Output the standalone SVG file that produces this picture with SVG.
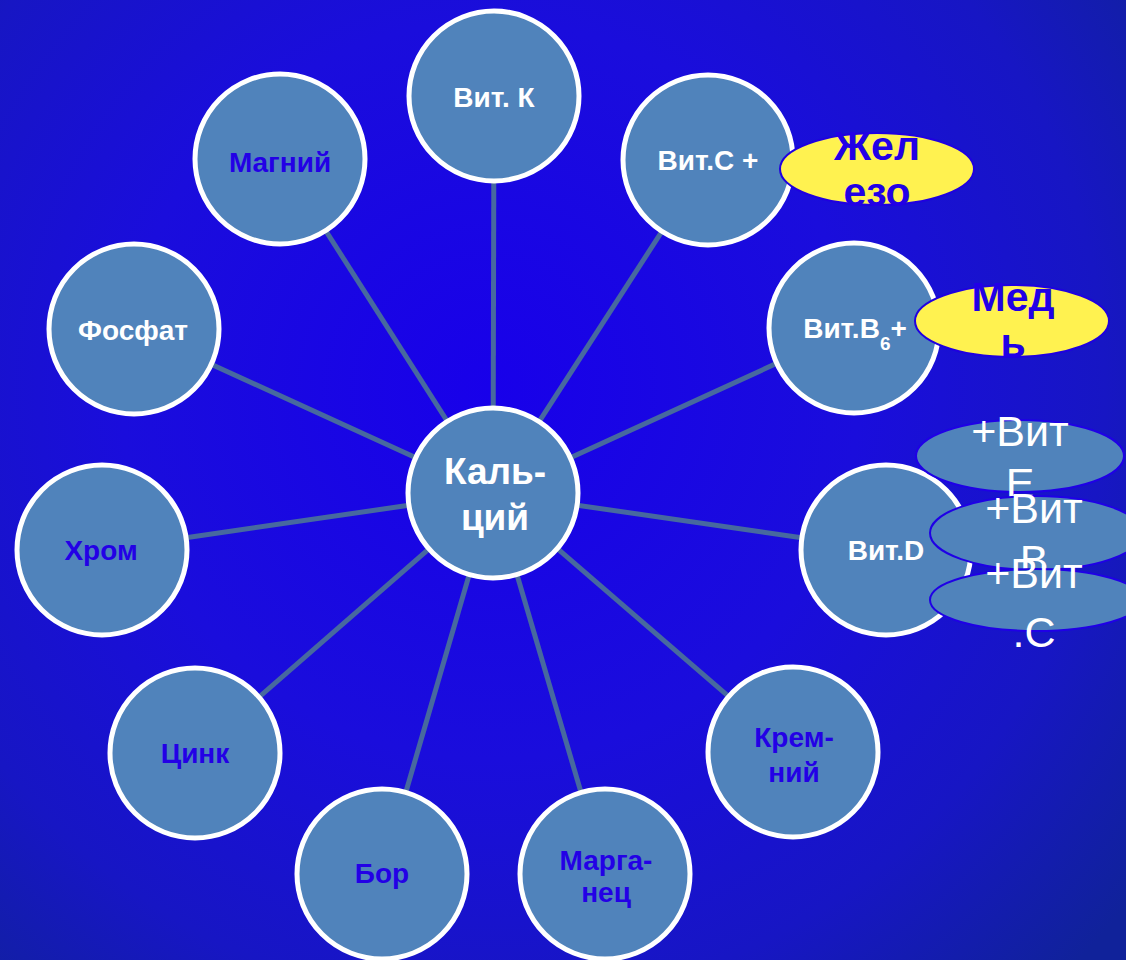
<svg xmlns="http://www.w3.org/2000/svg" width="1126" height="960" viewBox="0 0 1126 960">
<defs>
<radialGradient id="bg" gradientUnits="userSpaceOnUse" cx="490" cy="390" r="820">
<stop offset="0" stop-color="#1800ea"/>
<stop offset="0.45" stop-color="#1a0ddc"/>
<stop offset="0.75" stop-color="#1716c4"/>
<stop offset="1" stop-color="#10229a"/>
</radialGradient>
<clipPath id="c1"><rect x="770" y="120" width="220" height="89"/></clipPath>
<clipPath id="c2"><rect x="900" y="270" width="226" height="90"/></clipPath>
</defs>
<style>
.n{fill:#5083bb;stroke:#ffffff;stroke-width:5}
.w{font-family:"Liberation Sans",Arial,sans-serif;font-weight:bold;font-size:28px;fill:#ffffff;text-anchor:middle}
.b{font-family:"Liberation Sans",Arial,sans-serif;font-weight:bold;font-size:28px;fill:#2300e6;text-anchor:middle}
.y{fill:#fff250;stroke:#1f00e0;stroke-width:2}
.yt{font-family:"Liberation Sans",Arial,sans-serif;font-weight:bold;font-size:41px;fill:#2200e6;text-anchor:middle}
.e{fill:#5083bb;stroke:#1f00e6;stroke-width:2}
.et{font-family:"Liberation Sans",Arial,sans-serif;font-size:43px;fill:#ffffff;text-anchor:middle}
.l{stroke:#47699f;stroke-width:5;fill:none}
</style>
<rect width="1126" height="960" fill="url(#bg)"/>
<g id="connectors">
<line class="l" x1="493" y1="493" x2="494" y2="96"/>
<line class="l" x1="493" y1="493" x2="708" y2="160"/>
<line class="l" x1="493" y1="493" x2="854" y2="328"/>
<line class="l" x1="493" y1="493" x2="886" y2="550"/>
<line class="l" x1="493" y1="493" x2="793" y2="752"/>
<line class="l" x1="493" y1="493" x2="605" y2="874"/>
<line class="l" x1="493" y1="493" x2="382" y2="874"/>
<line class="l" x1="493" y1="493" x2="195" y2="753"/>
<line class="l" x1="493" y1="493" x2="102" y2="550"/>
<line class="l" x1="493" y1="493" x2="134" y2="329"/>
<line class="l" x1="493" y1="493" x2="280" y2="159"/>
</g>
<g id="vitk"><circle class="n" cx="494" cy="96" r="85"/><text class="w" x="494" y="107">Вит. К</text></g>
<g id="magnij"><circle class="n" cx="280" cy="159" r="85"/><text class="b" x="280" y="172">Магний</text></g>
<g id="fosfat"><circle class="n" cx="134" cy="329" r="85"/><text class="w" x="133" y="340">Фосфат</text></g>
<g id="hrom"><circle class="n" cx="102" cy="550" r="85"/><text class="b" x="101" y="560">Хром</text></g>
<g id="cink"><circle class="n" cx="195" cy="753" r="85"/><text class="b" x="195" y="763">Цинк</text></g>
<g id="bor"><circle class="n" cx="382" cy="874" r="85"/><text class="b" x="382" y="883">Бор</text></g>
<g id="marganec"><circle class="n" cx="605" cy="874" r="85"/><text class="b" x="606" y="870">Марга-</text><text class="b" x="606" y="902">нец</text></g>
<g id="kremnij"><circle class="n" cx="793" cy="752" r="85"/><text class="b" x="794" y="747">Крем-</text><text class="b" x="794" y="782">ний</text></g>
<g id="kalcij"><circle class="n" cx="493" cy="493" r="85"/><text class="w" style="font-size:37px" x="495" y="484">Каль-</text><text class="w" style="font-size:37px" x="495" y="530">ций</text></g>
<g id="vitc"><circle class="n" cx="708" cy="160" r="85"/><text class="w" x="708" y="170">Вит.С +</text></g>
<g id="zhelezo"><ellipse class="y" cx="877" cy="169" rx="97" ry="36"/><g clip-path="url(#c1)"><text class="yt" x="877" y="160">Жел</text><text class="yt" x="877" y="206">езо</text></g></g>
<g id="vitb6"><circle class="n" cx="854" cy="328" r="85"/><text class="w" x="855" y="338">Вит.В<tspan style="font-size:19px" dy="12">6</tspan><tspan dy="-12">+</tspan></text></g>
<g id="med"><ellipse class="y" cx="1012" cy="321" rx="97" ry="36"/><g clip-path="url(#c2)"><text class="yt" x="1013" y="311">Мед</text><text class="yt" x="1013" y="357">ь</text></g></g>
<g id="vitd"><circle class="n" cx="886" cy="550" r="85"/><text class="w" x="886" y="560">Вит.D</text></g>
<g id="vite"><ellipse class="e" cx="1020" cy="456" rx="104" ry="36"/><text class="et" x="1020" y="446">+Вит</text><text class="et" x="1020" y="498">Е</text></g>
<g id="vitb"><ellipse class="e" cx="1036" cy="533" rx="106" ry="37"/><text class="et" x="1034" y="523">+Вит</text><text class="et" x="1034" y="575">В</text></g>
<g id="vitc2"><ellipse class="e" cx="1036" cy="600" rx="106" ry="31"/><text class="et" x="1034" y="588">+Вит</text><text class="et" x="1034" y="647">.С</text></g>
</svg>
